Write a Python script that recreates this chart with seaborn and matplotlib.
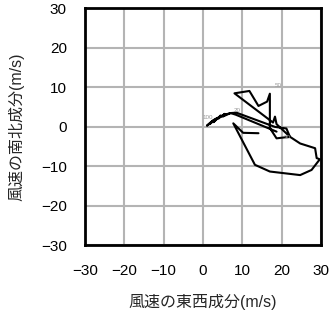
import numpy as np
import pandas as pd
import matplotlib
matplotlib.use("Agg")
import matplotlib.pyplot as plt
import seaborn as sns

# Hodograph wind components (m/s)
u = [18.7, 8.3, 7.0, 5.0, 5.5, 3.9, 4.5, 2.7, 3.4, 1.7, 2.4, 1.0, 2.6, 4.2, 5.6, 7.0, 8.5,
     18.3, 21.2, 22.1, 18.7, 17.0, 17.0, 16.3, 14.1, 11.8, 8.0, 17.8, 18.3, 18.7,
     22.1, 24.7, 28.5, 28.9, 29.7, 27.6, 24.7, 17.0, 13.2, 7.7, 10.2, 14.1]
v = [-1.3, 3.0, 3.4, 2.5, 3.2, 2.0, 2.8, 1.1, 2.0, 0.6, 1.4, 0.2, 1.6, 2.4, 3.0, 3.4, 3.5,
     -0.1, -0.5, -2.6, -3.0, -0.4, 8.3, 6.3, 5.2, 9.0, 8.4, 1.0, 2.5, 0.6,
     -2.6, -4.3, -5.5, -8.0, -8.3, -11.0, -12.3, -11.4, -9.7, 0.8, -1.6, -1.7]
order = list(range(len(u)))

# level labels
lab_text = ["100", "20", "50", "30"]
lab_u = [1.2, 8.8, 19.0, 21.4]
lab_v = [2.2, 4.0, 10.3, -2.7]

ticks = [-30, -20, -10, 0, 10, 20, 30]
xlabel = "風速の東西成分(m/s)"
ylabel = "風速の南北成分(m/s)"

sns.set_style("white")
plt.rcParams['font.family'] = ['Liberation Sans', 'Noto Sans CJK JP', 'DejaVu Sans']
plt.rcParams['axes.unicode_minus'] = True

fig = plt.figure(figsize=(3.31, 3.18), dpi=100)
ax = fig.add_axes([85/331, 1-245/318, (321-85)/331, (245-8)/318])

df = pd.DataFrame({"u": u, "v": v, "o": order})
sns.lineplot(data=df, x="u", y="v", sort=False, estimator=None, color="black",
             linewidth=1.5, ax=ax, zorder=3)

for t, x, y in zip(lab_text, lab_u, lab_v):
    ax.text(x, y, t, fontsize=4.5, color="#999999", ha="center", va="center", zorder=4)

ax.set_xlim(-30, 30)
ax.set_ylim(-30, 30)
ax.set_xticks(ticks)
ax.set_yticks(ticks)
ax.set_xticklabels([f"{t}".replace("-", "\u2212") for t in ticks])
ax.set_yticklabels([f"{t}".replace("-", "\u2212") for t in ticks])
ax.grid(True, color="#b4b4b4", linewidth=1.5)
ax.set_axisbelow(True)
for s in ax.spines.values():
    s.set_linewidth(2)
    s.set_color("black")
ax.tick_params(axis="both", direction="out", length=7, width=1, colors="black", labelsize=11)
ax.tick_params(axis="x", pad=7)
ax.tick_params(axis="y", pad=6)
ax.set_xlabel(xlabel, fontsize=11.5, labelpad=11)
ax.set_ylabel(ylabel, fontsize=11.5, labelpad=12)

fig.savefig("out.png", dpi=100)
